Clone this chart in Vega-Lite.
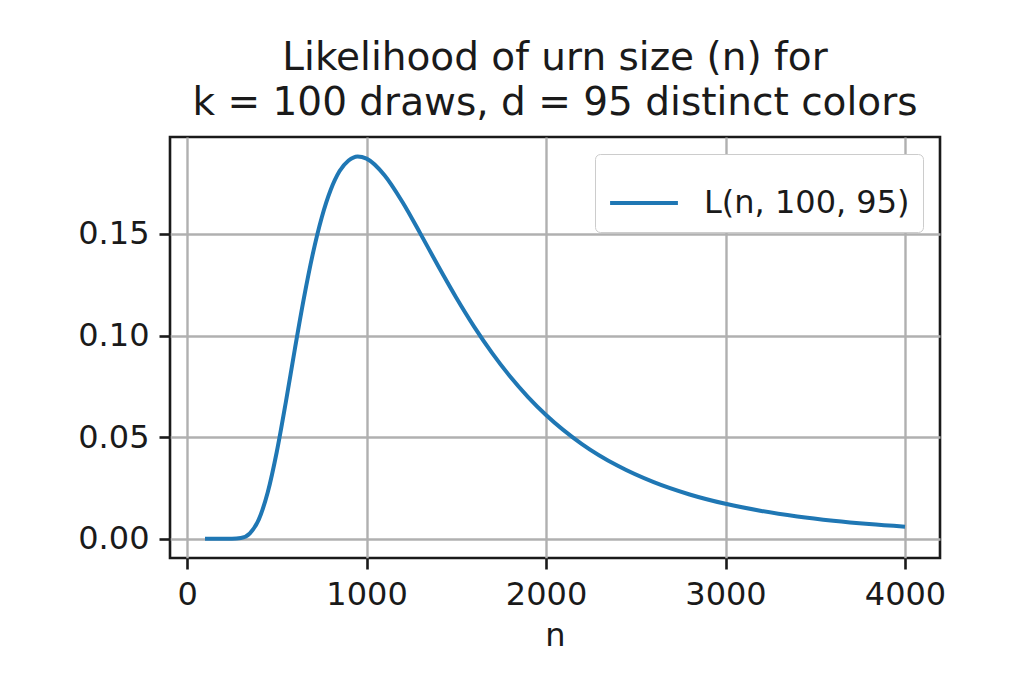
{
  "$schema": "https://vega.github.io/schema/vega-lite/v6.json",
  "autosize": "none",
  "width": 770,
  "height": 421,
  "padding": {"left": 170, "top": 137, "right": 81, "bottom": 121},
  "background": "white",
  "title": {
    "text": ["Likelihood of urn size (n) for", "k = 100 draws, d = 95 distinct colors"],
    "fontSize": 39,
    "font": "DejaVu Sans",
    "fontWeight": "normal",
    "color": "#1a1a1a",
    "anchor": "middle",
    "lineHeight": 45,
    "offset": 14
  },
  "data": {
    "values": [
      {"n": 100, "L": 0.0, "series": "L(n, 100, 95)"},
      {"n": 150, "L": 0.0, "series": "L(n, 100, 95)"},
      {"n": 200, "L": 0.0000001, "series": "L(n, 100, 95)"},
      {"n": 250, "L": 0.0000205, "series": "L(n, 100, 95)"},
      {"n": 300, "L": 0.000412, "series": "L(n, 100, 95)"},
      {"n": 350, "L": 0.002725, "series": "L(n, 100, 95)"},
      {"n": 400, "L": 0.009606, "series": "L(n, 100, 95)"},
      {"n": 450, "L": 0.02303, "series": "L(n, 100, 95)"},
      {"n": 500, "L": 0.04283, "series": "L(n, 100, 95)"},
      {"n": 550, "L": 0.06706, "series": "L(n, 100, 95)"},
      {"n": 600, "L": 0.09298, "series": "L(n, 100, 95)"},
      {"n": 650, "L": 0.11786, "series": "L(n, 100, 95)"},
      {"n": 700, "L": 0.13989, "series": "L(n, 100, 95)"},
      {"n": 750, "L": 0.15792, "series": "L(n, 100, 95)"},
      {"n": 800, "L": 0.17155, "series": "L(n, 100, 95)"},
      {"n": 850, "L": 0.18087, "series": "L(n, 100, 95)"},
      {"n": 900, "L": 0.18604, "series": "L(n, 100, 95)"},
      {"n": 950, "L": 0.18808, "series": "L(n, 100, 95)"},
      {"n": 1000, "L": 0.18699, "series": "L(n, 100, 95)"},
      {"n": 1100, "L": 0.17883, "series": "L(n, 100, 95)"},
      {"n": 1200, "L": 0.16566, "series": "L(n, 100, 95)"},
      {"n": 1300, "L": 0.15009, "series": "L(n, 100, 95)"},
      {"n": 1400, "L": 0.13404, "series": "L(n, 100, 95)"},
      {"n": 1500, "L": 0.11858, "series": "L(n, 100, 95)"},
      {"n": 1600, "L": 0.10426, "series": "L(n, 100, 95)"},
      {"n": 1700, "L": 0.09132, "series": "L(n, 100, 95)"},
      {"n": 1800, "L": 0.07983, "series": "L(n, 100, 95)"},
      {"n": 1900, "L": 0.06975, "series": "L(n, 100, 95)"},
      {"n": 2000, "L": 0.06094, "series": "L(n, 100, 95)"},
      {"n": 2200, "L": 0.04664, "series": "L(n, 100, 95)"},
      {"n": 2400, "L": 0.03592, "series": "L(n, 100, 95)"},
      {"n": 2600, "L": 0.02788, "series": "L(n, 100, 95)"},
      {"n": 2800, "L": 0.02183, "series": "L(n, 100, 95)"},
      {"n": 3000, "L": 0.01723, "series": "L(n, 100, 95)"},
      {"n": 3200, "L": 0.01372, "series": "L(n, 100, 95)"},
      {"n": 3400, "L": 0.01102, "series": "L(n, 100, 95)"},
      {"n": 3600, "L": 0.00892, "series": "L(n, 100, 95)"},
      {"n": 3800, "L": 0.00727, "series": "L(n, 100, 95)"},
      {"n": 4000, "L": 0.00597, "series": "L(n, 100, 95)"}
    ]
  },
  "mark": {"type": "line", "interpolate": "monotone", "strokeWidth": 4, "clip": true},
  "encoding": {
    "x": {
      "field": "n",
      "type": "quantitative",
      "scale": {"domain": [-95, 4195], "nice": false, "zero": false},
      "axis": {
        "title": "n",
        "values": [0, 1000, 2000, 3000, 4000],
        "format": "d",
        "titlePadding": 10
      }
    },
    "y": {
      "field": "L",
      "type": "quantitative",
      "scale": {"domain": [-0.00941, 0.19761], "nice": false, "zero": false},
      "axis": {
        "title": null,
        "values": [0, 0.05, 0.1, 0.15],
        "format": ".2f"
      }
    },
    "color": {
      "field": "series",
      "type": "nominal",
      "scale": {"range": ["#1f77b4"]},
      "legend": {
        "title": null,
        "orient": "top-right",
        "offset": 17,
        "padding": 13,
        "fillColor": "white",
        "strokeColor": "#cccccc",
        "cornerRadius": 5,
        "symbolType": "stroke",
        "symbolSize": 4600,
        "symbolStrokeWidth": 4,
        "labelFontSize": 32,
        "labelFont": "DejaVu Sans",
        "labelColor": "#1a1a1a",
        "labelOffset": 24,
        "labelLimit": 400
      }
    }
  },
  "config": {
    "view": {"stroke": "#1a1a1a", "strokeWidth": 2.6},
    "axis": {
      "domain": false,
      "grid": true,
      "gridColor": "#b0b0b0",
      "gridWidth": 2.4,
      "gridOpacity": 1,
      "ticks": true,
      "tickColor": "#1a1a1a",
      "tickWidth": 2.6,
      "tickSize": 11,
      "labelFont": "DejaVu Sans",
      "labelFontSize": 32,
      "labelColor": "#1a1a1a",
      "labelPadding": 10,
      "titleFont": "DejaVu Sans",
      "titleFontSize": 32,
      "titleFontWeight": "normal",
      "titleColor": "#1a1a1a"
    }
  }
}
